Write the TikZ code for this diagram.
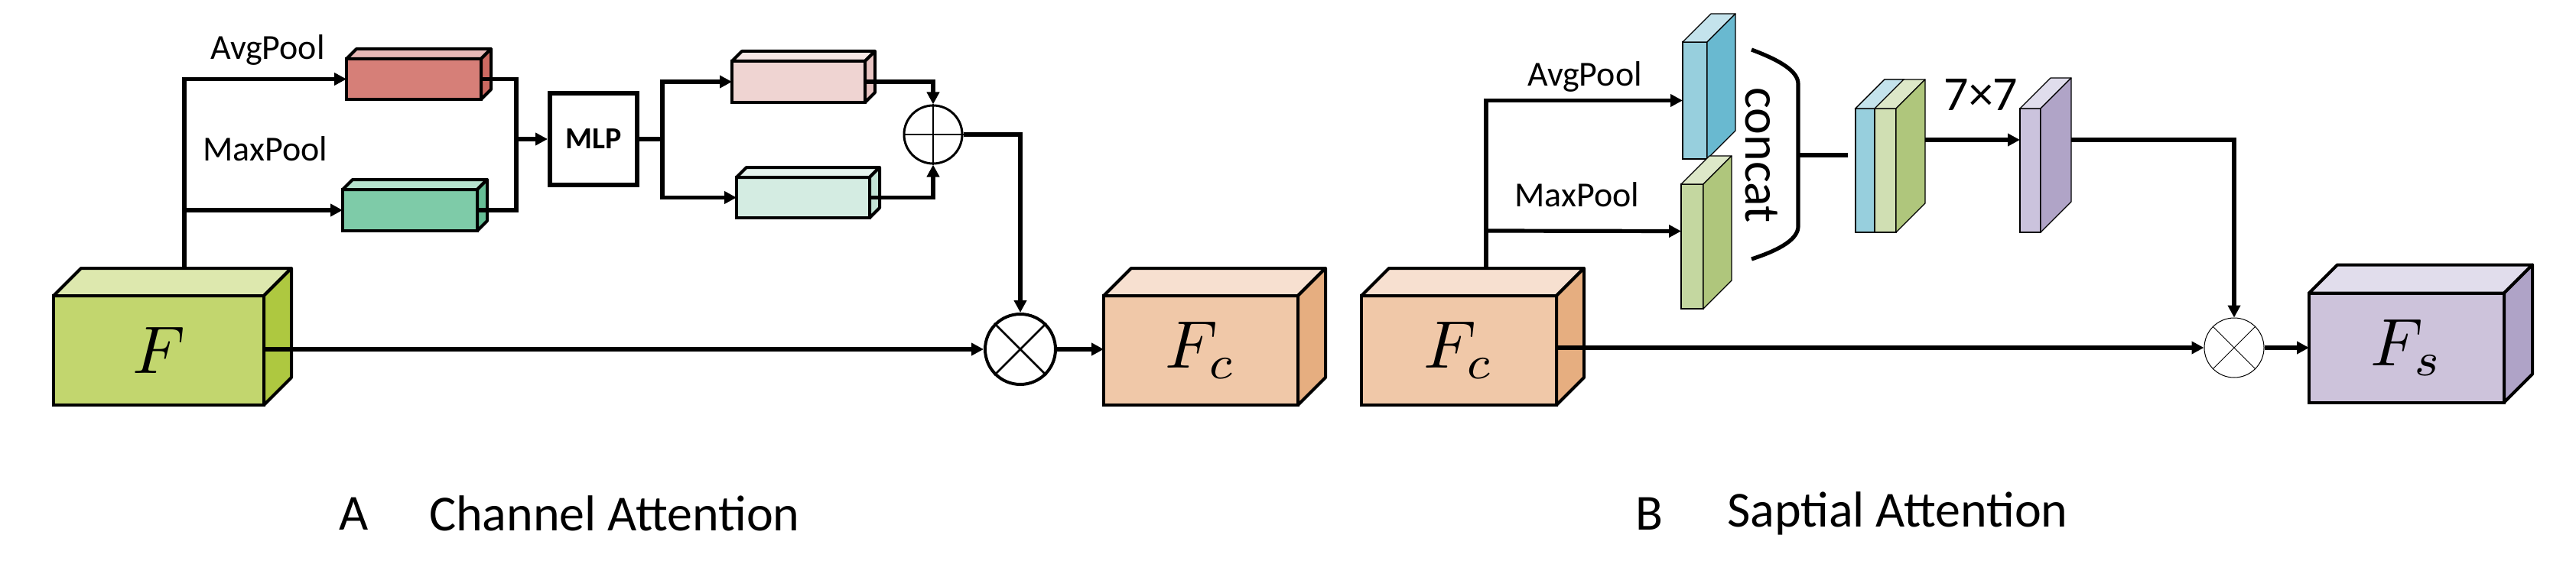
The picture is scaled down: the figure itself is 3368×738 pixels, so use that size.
\documentclass[tikz,border=0pt]{standalone}
\usepackage{fontspec}
\setmainfont{Carlito}
\usetikzlibrary{arrows.meta,calc}
\definecolor{fF}{HTML}{C2D66E}\definecolor{tF}{HTML}{DDE8AE}\definecolor{sF}{HTML}{AEC840}
\definecolor{fC}{HTML}{F0C8A8}\definecolor{tC}{HTML}{F7E0D0}\definecolor{sC}{HTML}{E6AE80}
\definecolor{fS}{HTML}{CDC3DB}\definecolor{tS}{HTML}{E1DDEC}\definecolor{sS}{HTML}{AFA3C7}
\definecolor{fR}{HTML}{D67F78}\definecolor{tR}{HTML}{E8B8B6}\definecolor{sR}{HTML}{CC6A62}
\definecolor{fG}{HTML}{7ECBA8}\definecolor{tG}{HTML}{B5E2CE}\definecolor{sG}{HTML}{66BE96}
\definecolor{fP}{HTML}{EFD4D2}\definecolor{tP}{HTML}{F7E8E6}\definecolor{sP}{HTML}{E8C4C2}
\definecolor{fL}{HTML}{D4ECE2}\definecolor{tL}{HTML}{E6F4EE}\definecolor{sL}{HTML}{C3E4D6}
\definecolor{fB}{HTML}{97CFDD}\definecolor{tB}{HTML}{C4E3EC}\definecolor{sB}{HTML}{69B9D0}
\definecolor{fY}{HTML}{C4D7A0}\definecolor{tY}{HTML}{DDE8C8}\definecolor{sY}{HTML}{AFC67C}
\definecolor{fV}{HTML}{CBC3DD}\definecolor{tV}{HTML}{E0DDEC}\definecolor{sV}{HTML}{B0A4C7}
\newcommand\mycube[9]{% name, center, w, h, d, front, top, side, linewidth
 \node[draw, line width=#9, fill=#6, minimum width=#3*0.5pt, minimum height=#4*0.5pt, inner sep=0pt, outer sep=0pt] (#1) at #2 {};
 \draw[line width=#9, line join=round, fill=#7] (#1.north west) -- ++(#5*0.5pt,#5*0.5pt) -- ++(#3*0.5pt,0pt) -- (#1.north east) -- cycle;
 \draw[line width=#9, line join=round, fill=#8] (#1.north east) -- ++(#5*0.5pt,#5*0.5pt) -- ++(0pt,-#4*0.5pt) -- (#1.south east) -- cycle;}
\newcommand\mybigmath[1]{\scalebox{4.4}{$#1$}}
\begin{document}
\begin{tikzpicture}[x=0.5pt,y=-0.5pt,
 ln/.style={line width=2.6pt},
 thin ln/.style={line width=1.3pt},
 arr/.style={line width=2.6pt,-{Triangle[length=8pt,width=8pt]}},
 lab/.style={font=\fontsize{23}{26}\selectfont},
 big/.style={font=\fontsize{33}{40}\selectfont}]
\useasboundingbox (0,0) rectangle (3368,738);
% ---------- A ----------
\mycube{F}{(207.5,458.5)}{275}{143}{36}{fF}{tF}{sF}{2pt}
\mycube{red}{(541,103.5)}{176}{53}{13}{fR}{tR}{sR}{2pt}
\mycube{grn}{(536,275)}{176}{54}{13}{fG}{tG}{sG}{2pt}
\mycube{pink}{(1044,107)}{174}{54}{13}{fP}{tP}{sP}{2pt}
\mycube{lg}{(1050,258.5)}{174}{53}{13}{fL}{tL}{sL}{2pt}
\mycube{Fc}{(1570,458.5)}{254}{143}{36}{fC}{tC}{sC}{2pt}
\node[draw,line width=3pt,minimum width=57pt,minimum height=60pt,inner sep=0pt,font=\bfseries\fontsize{20}{24}\selectfont] (mlp) at (776,182) {MLP};
\node[draw,line width=1.5pt,circle,minimum size=38pt,inner sep=0pt] (op) at (1220,176) {};
\draw[thin ln] (op.north)--(op.south) (op.west)--(op.east);
\node[draw,line width=2pt,circle,minimum size=46pt,inner sep=0pt] (ot) at (1334,457) {};
\draw[thin ln] (ot.north west)--(ot.south east) (ot.north east)--(ot.south west);
\node[lab] (avg1) at (350,65) {AvgPool};
\node[lab] (max1) at (347,195) {MaxPool};
\node at (F) {\mybigmath{F}};
\node at (Fc) {\mybigmath{F_c}};
\coordinate (fb) at (241,350);
\draw[arr] (fb) |- (red.west);
\draw[arr] (fb |- grn.west) -- (grn.west);
\coordinate (j1) at (675,182);
\draw[ln] (red.east) -| (j1);
\draw[ln] (grn.east) -| (j1);
\draw[arr] (j1) -- (mlp.west);
\coordinate (j2) at (866,182);
\draw[ln] (mlp.east) -- (j2);
\draw[arr] (j2) |- (pink.west);
\draw[arr] (j2) |- (lg.west);
\draw[arr] (pink.east) -| (op.north);
\draw[arr] (lg.east) -| (op.south);
\draw[arr] (op.east) -| (ot.north);
\draw[arr] (F.east |- ot.west) -- (ot.west);
\draw[arr] (ot.east) -- (Fc.west |- ot.east);
% ---------- B ----------
\mycube{Fc2}{(1907.5,458.5)}{255}{143}{36}{fC}{tC}{sC}{2pt}
\mycube{Fs}{(3146.5,455)}{255}{143}{37}{fS}{tS}{sS}{2pt}
\mycube{bs}{(2216,131.5)}{32}{153}{37}{fB}{tB}{sB}{0.6pt}
\mycube{gs}{(2212.5,322.5)}{29}{163}{37}{fY}{tY}{sY}{0.6pt}
\mycube{cs}{(2452.5,223)}{53}{162}{38}{fY!80!white}{tY}{sY}{0.6pt}
\draw[line width=0.6pt,fill=fB] (cs.north west) rectangle ($(cs.south west)+(12.5pt,0pt)$);
\draw[line width=0.6pt,fill=tB] (cs.north west) -- ++(19pt,19pt) -- ++(12.5pt,0pt) -- ++(-19pt,-19pt) -- cycle;
\mycube{pv}{(2654.5,223)}{27}{162}{40}{fV}{tV}{sV}{0.6pt}
\node[draw,line width=0.5pt,circle,minimum size=39pt,inner sep=0pt] (ot2) at (2921,455) {};
\draw[line width=0.4pt] (ot2.north west)--(ot2.south east) (ot2.north east)--(ot2.south west);
\node[lab] (avg2) at (2072,100) {AvgPool};
\node[lab] (max2) at (2062,255) {MaxPool};
\node[font=\fontsize{33}{38}\selectfont,rotate=-90] (cc) at (2303,203) {concat};
\node[font=\fontsize{32}{38}\selectfont] (k7) at (2590,124) {7×7};
\node at (Fc2) {\mybigmath{F_c}};
\node at (Fs) {\mybigmath{F_s}};
\coordinate (br) at (2351,203);
\draw[ln] (2290,65) .. controls (2330,80) and (2351,94) .. (2351,110) -- (2351,296) .. controls (2351,312) and (2330,326) .. (2290,339);
\coordinate (fb2) at (1943,350);
\draw[arr] (fb2) |- (bs.west);
\draw[arr] (fb2 |- 0,302) -- ($(gs.west)+(0pt,10pt)$);
\draw[ln] (br) -- ($(cs.west |- br)+(-5pt,0pt)$);
\draw[arr] ($(cs.east)+(19pt,20pt)$) -- ($(pv.west)+(0pt,20pt)$);
\draw[arr] ($(pv.east)+(20pt,20pt)$) -| (ot2.north);
\draw[arr] (Fc2.east |- ot2.west) -- (ot2.west);
\draw[arr] (ot2.east) -- (Fs.west);
% ---------- captions ----------
\node[big,anchor=west] (cA) at (436,672) {A};
\node[big,anchor=west] (tA) at (554,672) {Channel Attention};
\node[big,anchor=west] (cB) at (2131,672) {B};
\node[big,anchor=west] (tB) at (2251,672) {Saptial Attention};
\end{tikzpicture}
\end{document}
